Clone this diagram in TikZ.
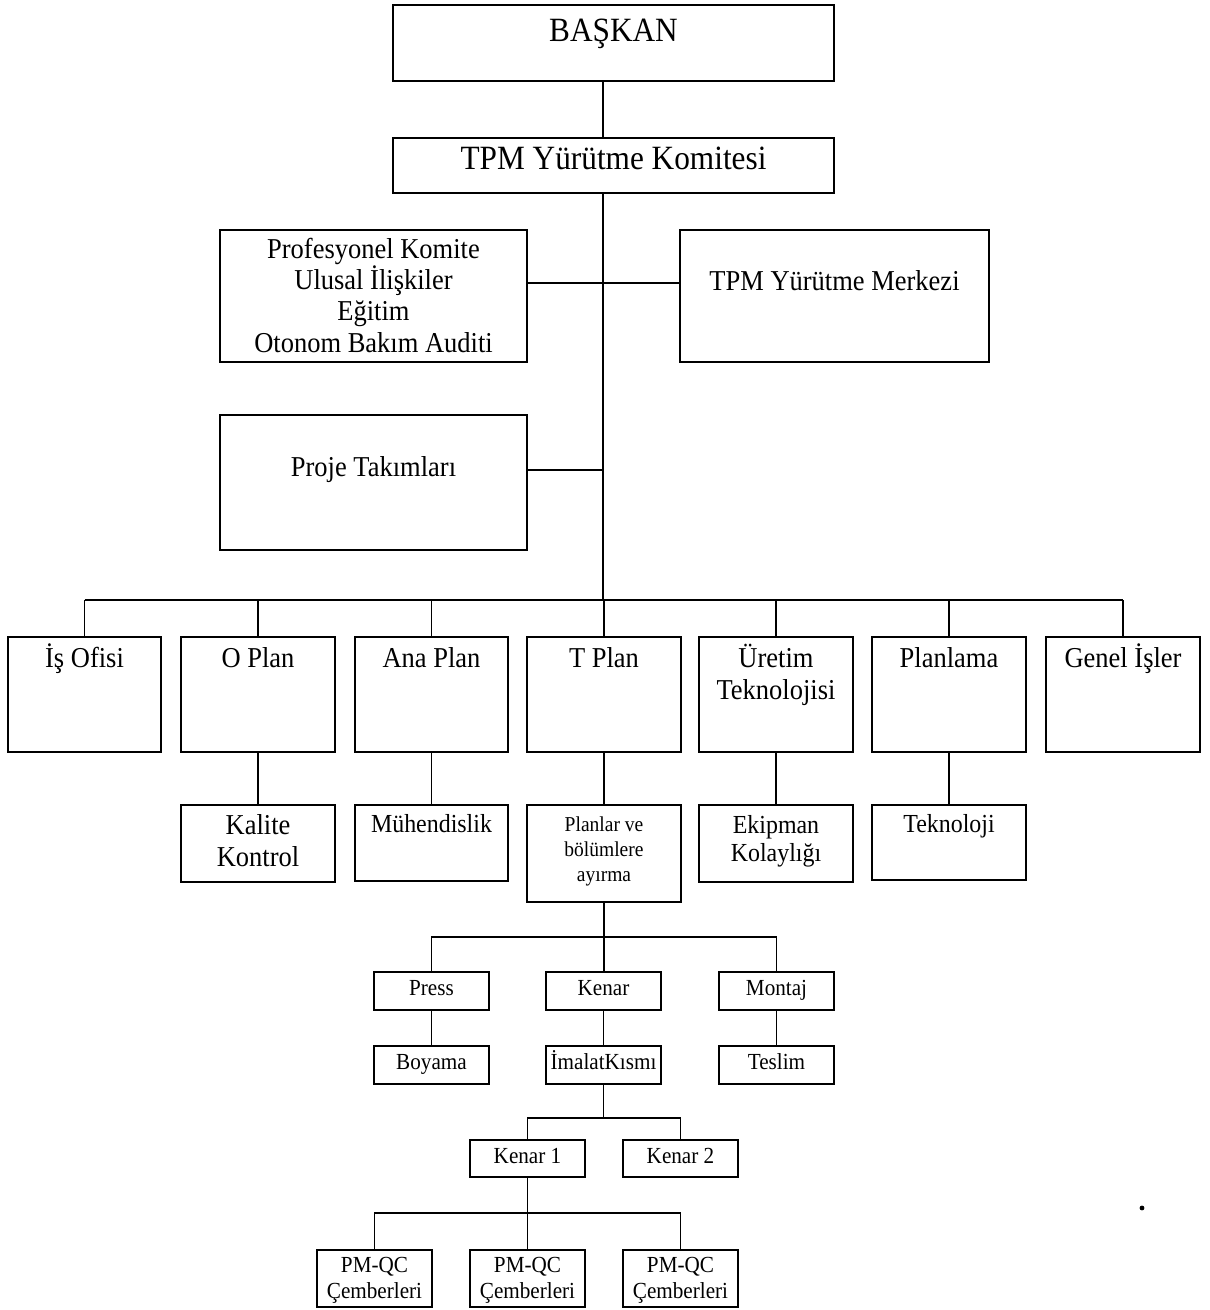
\documentclass[tikz,border=0pt]{standalone}
\usepackage{fontspec}
\setmainfont{Liberation Serif}[FakeStretch=0.92]
\begin{document}
\begin{tikzpicture}[x=0.5pt,y=-0.5pt,
  box/.style={draw, line width=0.8pt, inner sep=0pt, rectangle},
  txt/.style={inner sep=0pt, align=center, anchor=north},
  conn/.style={line width=0.8pt}]
\useasboundingbox (0,0) rectangle (1209,1310);
\newcommand\bx[5]{\node[box, minimum width={(#4-#2)*0.5pt}, minimum height={(#5-#3)*0.5pt}] (#1) at ({(#2+#4)/2},{(#3+#5)/2}) {};}
\newcommand\tx[5]{\node[txt, font=\fontsize{#3}{#4}\selectfont] (#1) at ([yshift=#3pt]#2) {\rule{0pt}{#3pt}#5};}
% boxes
\bx{baskan}{393}{5}{834}{81}
\bx{tpmk}{393}{138}{834}{193}
\bx{prof}{220}{230}{527}{362}
\bx{merk}{680}{230}{989}{362}
\bx{proje}{220}{415}{527}{550}
\bx{isofisi}{8}{637}{161}{752}
\bx{oplan}{181}{637}{335}{752}
\bx{anaplan}{355}{637}{508}{752}
\bx{tplan}{527}{637}{681}{752}
\bx{uretim}{699}{637}{853}{752}
\bx{planlama}{872}{637}{1026}{752}
\bx{genel}{1046}{637}{1200}{752}
\bx{kalite}{181}{805}{335}{882}
\bx{muh}{355}{805}{508}{881}
\bx{planlar}{527}{805}{681}{902}
\bx{ekipman}{699}{805}{853}{882}
\bx{teknoloji}{872}{805}{1026}{880}
\bx{press}{374}{972}{489}{1010}
\bx{kenar}{546}{972}{661}{1010}
\bx{montaj}{719}{972}{834}{1010}
\bx{boyama}{374}{1046}{489}{1084}
\bx{imalat}{546}{1046}{661}{1084}
\bx{teslim}{719}{1046}{834}{1084}
\bx{kone}{470}{1140}{585}{1177}
\bx{ktwo}{623}{1140}{738}{1177}
\bx{pmone}{317}{1250}{432}{1307}
\bx{pmtwo}{470}{1250}{585}{1307}
\bx{pmthree}{623}{1250}{738}{1307}
% texts
\tx{tbaskan}{613.5,41}{17}{20}{BAŞKAN}
\tx{ttpmk}{613.5,169}{17}{20}{TPM Yürütme Komitesi}
\tx{tprof}{373.5,258}{14.4}{15.6}{Profesyonel Komite\\Ulusal İlişkiler\\Eğitim\\Otonom Bakım Auditi}
\tx{tmerk}{834.5,290}{14.4}{15.5}{TPM Yürütme Merkezi}
\tx{tproje}{373.5,476}{14.4}{15.5}{Proje Takımları}
\tx{tisofisi}{84.5,667}{14.4}{16}{İş Ofisi}
\tx{toplan}{258,667}{14.4}{16}{O Plan}
\tx{tanaplan}{431.5,667}{14.4}{16}{Ana Plan}
\tx{ttplan}{604,667}{14.4}{16}{T Plan}
\tx{turetim}{776,667}{14.4}{16}{Üretim\\Teknolojisi}
\tx{tplanlama}{949,667}{14.4}{16}{Planlama}
\tx{tgenel}{1123,667}{14.4}{16}{Genel İşler}
\tx{tkalite}{258,834}{14.4}{16}{Kalite\\Kontrol}
\tx{tmuh}{431.5,832}{13}{14}{Mühendislik}
\tx{tplanlar}{604,831}{10.6}{12.5}{Planlar ve\\bölümlere\\ayırma}
\tx{tekipman}{776,833}{13}{14}{Ekipman\\Kolaylığı}
\tx{tteknoloji}{949,832}{13}{14}{Teknoloji}
\tx{tpress}{431.5,995}{11.5}{13}{Press}
\tx{tkenar}{603.5,995}{11.5}{13}{Kenar}
\tx{tmontaj}{776.5,995}{11.5}{13}{Montaj}
\tx{tboyama}{431.5,1069}{11.5}{13}{Boyama}
\tx{timalat}{603.5,1069}{11.5}{13}{İmalatKısmı}
\tx{tteslim}{776.5,1069}{11.5}{13}{Teslim}
\tx{tkone}{527.5,1163}{11.5}{13}{Kenar 1}
\tx{tktwo}{680.5,1163}{11.5}{13}{Kenar 2}
\tx{tpmone}{374.5,1272}{11.5}{13}{PM-QC\\Çemberleri}
\tx{tpmtwo}{527.5,1272}{11.5}{13}{PM-QC\\Çemberleri}
\tx{tpmthree}{680.5,1272}{11.5}{13}{PM-QC\\Çemberleri}
% helper coordinates
\coordinate (tr) at (603,600);
\coordinate (hone) at (603,283);
\coordinate (htwo) at (603,470);
\coordinate (bone) at (604,937);
\coordinate (btwo) at (604,1118);
\coordinate (bthree) at (527,1213);
% connectors
\draw[conn] (baskan.south -| tr) -- (tpmk.north -| tr);
\draw[conn] (tpmk.south -| tr) -- (tr);
\draw[conn] (hone -| prof.east) -- (hone -| merk.west);
\draw[conn] (htwo -| proje.east) -- (htwo);
\draw[conn] (isofisi.north |- tr) -- (genel.north |- tr);
\foreach \n in {isofisi,oplan,anaplan,tplan,uretim,planlama,genel}
  \draw[conn] (\n.north) -- (\n.north |- tr);
\draw[conn] (oplan.south) -- (kalite.north);
\draw[conn] (anaplan.south) -- (muh.north);
\draw[conn] (tplan.south) -- (planlar.north);
\draw[conn] (uretim.south) -- (ekipman.north);
\draw[conn] (planlama.south) -- (teknoloji.north);
\draw[conn] (planlar.south) -- (planlar.south |- kenar.north);
\draw[conn] (press.north) |- (bone) -| (montaj.north);
\draw[conn] (press.south) -- (boyama.north);
\draw[conn] (kenar.south) -- (imalat.north);
\draw[conn] (montaj.south) -- (teslim.north);
\draw[conn] (imalat.south) -- (imalat.south |- btwo);
\draw[conn] (kone.north) |- (btwo) -| (ktwo.north);
\draw[conn] (kone.south) -- (pmtwo.north);
\draw[conn] (pmone.north) |- (bthree) -| (pmthree.north);
\fill (1142,1208) circle (1.2pt);
\end{tikzpicture}
\end{document}
